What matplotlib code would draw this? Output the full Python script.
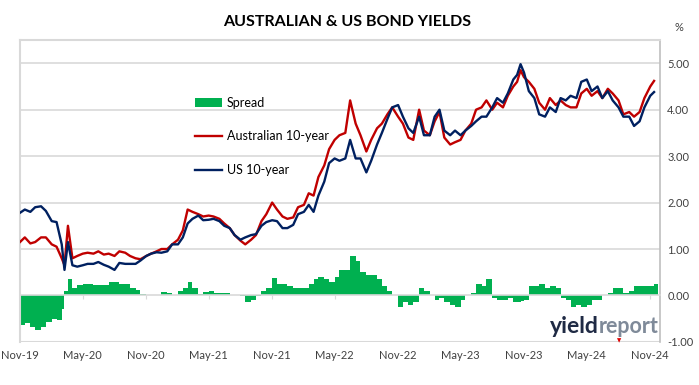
import numpy as np
import pandas as pd
import matplotlib
matplotlib.use("Agg")
import matplotlib.pyplot as plt
import matplotlib.dates as mdates
from matplotlib.patches import Patch
from matplotlib.lines import Line2D

plt.rcParams['font.family'] = ['Lato', 'DejaVu Sans']

# roughly twice a month
dates = [
    "2019-11-01", "2019-11-15", "2019-12-01", "2019-12-15", "2020-01-01", "2020-01-15",
    "2020-02-01", "2020-02-15", "2020-03-01", "2020-03-09", "2020-03-19", "2020-04-01",
    "2020-04-15", "2020-05-01", "2020-05-15", "2020-06-01", "2020-06-15", "2020-07-01",
    "2020-07-15", "2020-08-01", "2020-08-15", "2020-09-01", "2020-09-15", "2020-10-01",
    "2020-10-15", "2020-11-01", "2020-11-15", "2020-12-01", "2020-12-15", "2021-01-01",
    "2021-01-15", "2021-02-01", "2021-02-15", "2021-03-01", "2021-03-15", "2021-04-01",
    "2021-04-15", "2021-05-01", "2021-05-15", "2021-06-01", "2021-06-15", "2021-07-01",
    "2021-07-15", "2021-08-01", "2021-08-15", "2021-09-01", "2021-09-15", "2021-10-01",
    "2021-10-15", "2021-11-01", "2021-11-15", "2021-12-01", "2021-12-15", "2022-01-01",
    "2022-01-15", "2022-02-01", "2022-02-15", "2022-03-01", "2022-03-15", "2022-04-01",
    "2022-04-15", "2022-05-01", "2022-05-15", "2022-06-01", "2022-06-15", "2022-07-01",
    "2022-07-15", "2022-08-01", "2022-08-15", "2022-09-01", "2022-09-15", "2022-10-01",
    "2022-10-15", "2022-11-01", "2022-11-15", "2022-12-01", "2022-12-15", "2023-01-01",
    "2023-01-15", "2023-02-01", "2023-02-15", "2023-03-01", "2023-03-15", "2023-04-01",
    "2023-04-15", "2023-05-01", "2023-05-15", "2023-06-01", "2023-06-15", "2023-07-01",
    "2023-07-15", "2023-08-01", "2023-08-15", "2023-09-01", "2023-09-15", "2023-10-01",
    "2023-10-12", "2023-10-22", "2023-11-01", "2023-11-15", "2023-12-01", "2023-12-15",
    "2024-01-01", "2024-01-15", "2024-02-01", "2024-02-15", "2024-03-01", "2024-03-15",
    "2024-04-01", "2024-04-15", "2024-05-01", "2024-05-15", "2024-06-01", "2024-06-15",
    "2024-07-01", "2024-07-15", "2024-08-01", "2024-08-15", "2024-09-01", "2024-09-15",
    "2024-10-01", "2024-10-15", "2024-11-01", "2024-11-12",
]

au_10y = [
    1.15, 1.25, 1.12, 1.15, 1.25, 1.25,
    1.10, 1.05, 0.80, 0.65, 1.50, 0.80,
    0.85, 0.90, 0.92, 0.90, 0.95, 0.88,
    0.90, 0.85, 0.95, 0.92, 0.85, 0.80,
    0.78, 0.85, 0.90, 0.95, 1.00, 1.00,
    1.10, 1.20, 1.40, 1.85, 1.80, 1.75,
    1.70, 1.72, 1.70, 1.65, 1.55, 1.45,
    1.30, 1.18, 1.10, 1.20, 1.30, 1.60,
    1.75, 2.00, 1.85, 1.70, 1.65, 1.68,
    1.90, 1.95, 2.20, 2.15, 2.55, 2.80,
    3.15, 3.35, 3.45, 3.50, 4.20, 3.70,
    3.45, 3.10, 3.35, 3.60, 3.70, 3.90,
    4.05, 3.85, 3.70, 3.40, 3.35, 4.00,
    3.55, 3.45, 3.75, 3.95, 3.40, 3.25,
    3.30, 3.35, 3.55, 3.70, 4.00, 4.05,
    4.20, 4.00, 4.15, 4.05, 4.30, 4.50,
    4.60, 4.85, 4.70, 4.60, 4.45, 4.15,
    4.00, 4.25, 4.10, 4.20, 4.10, 4.05,
    4.05, 4.35, 4.45, 4.30, 4.40, 4.25,
    4.45, 4.35, 4.20, 3.90, 3.95, 3.85,
    3.95, 4.25, 4.50, 4.62,
]

us_10y = [
    1.78, 1.85, 1.80, 1.90, 1.92, 1.82,
    1.60, 1.58, 1.10, 0.55, 1.15, 0.65,
    0.62, 0.65, 0.68, 0.68, 0.72, 0.66,
    0.62, 0.55, 0.70, 0.68, 0.68, 0.68,
    0.75, 0.85, 0.90, 0.93, 0.92, 0.95,
    1.10, 1.10, 1.25, 1.55, 1.65, 1.72,
    1.62, 1.63, 1.65, 1.60, 1.50, 1.45,
    1.30, 1.20, 1.25, 1.30, 1.32, 1.50,
    1.58, 1.62, 1.60, 1.45, 1.45, 1.52,
    1.75, 1.80, 1.95, 1.80, 2.15, 2.45,
    2.85, 2.95, 2.90, 2.95, 3.35, 2.95,
    2.95, 2.65, 2.90, 3.25, 3.50, 3.80,
    4.05, 4.10, 3.85, 3.60, 3.50, 3.85,
    3.45, 3.45, 3.85, 4.00, 3.55, 3.45,
    3.55, 3.45, 3.55, 3.65, 3.75, 3.85,
    3.85, 4.05, 4.25, 4.15, 4.35, 4.65,
    4.75, 4.98, 4.80, 4.40, 4.25, 3.90,
    3.85, 4.05, 3.95, 4.25, 4.20, 4.30,
    4.25, 4.60, 4.65, 4.40, 4.50, 4.25,
    4.40, 4.20, 4.05, 3.85, 3.85, 3.65,
    3.75, 4.05, 4.30, 4.38,
]

x = pd.to_datetime(dates)
au = np.array(au_10y)
us = np.array(us_10y)
spread = au - us

# bar widths follow the spacing of the readings
gaps = np.diff(mdates.date2num(x))
widths = np.append(gaps, gaps[-1])

fig = plt.figure(figsize=(6.99, 3.85), dpi=100)
ax = fig.add_axes([0.0286, 0.112, 0.916, 0.784])

grid_c = '#d9d9d9'
for yv in [1, 2, 3, 4, 5]:
    ax.axhline(yv, color=grid_c, lw=1.2, zorder=0)

ax.bar(mdates.date2num(x), spread, width=widths, align='edge',
       color='#00B050', edgecolor='none', zorder=2)
ax.plot(x, au, color='#C00000', lw=1.7, zorder=3)
ax.plot(x, us, color='#002060', lw=1.7, zorder=4)

ax.set_ylim(-1, 5.5)
ax.set_xlim(pd.Timestamp("2019-11-01"), pd.Timestamp("2024-11-30"))

# y labels on the right
ax.yaxis.tick_right()
ax.set_yticks([-1, 0, 1, 2, 3, 4, 5])
ax.set_yticklabels([f"{v:.2f}" for v in [-1, 0, 1, 2, 3, 4, 5]])
ax.tick_params(axis='y', length=0, pad=5, labelsize=8, labelcolor='#404040')

# x axis sits on the zero line, labels pushed down to the bottom
ax.spines['bottom'].set_position(('data', 0))
ax.spines['bottom'].set_color(grid_c)
ax.spines['bottom'].set_linewidth(1.2)
ax.axhline(-1, color=grid_c, lw=1.5, zorder=1)
ticks = pd.date_range("2019-11-01", "2024-11-01", freq="6MS")
ax.set_xticks(ticks)
ax.xaxis.set_major_formatter(mdates.DateFormatter("%b-%y"))
ax.tick_params(axis='x', direction='out', length=3, color=grid_c,
               pad=36, labelsize=8, labelcolor='#404040')

for s in ['left', 'top']:
    ax.spines[s].set_color(grid_c)
    ax.spines[s].set_linewidth(1.5)
ax.spines['right'].set_color('#bfbfbf')
ax.spines['right'].set_linewidth(1.2)

handles = [Patch(facecolor='#00B050', edgecolor='none'),
           Line2D([0], [0], color='#C00000', lw=1.7),
           Line2D([0], [0], color='#002060', lw=1.7)]
ax.legend(handles, ['Spread', 'Australian 10-year', 'US 10-year'],
          loc='upper left', bbox_to_anchor=(0.255, 0.85), frameon=False,
          fontsize=9, labelspacing=1.75, handlelength=2.2, handletextpad=0.4)

fig.text(0.497, 0.943, "AUSTRALIAN & US BOND YIELDS", ha='center', va='center',
         fontsize=11.5, fontweight='bold', color='#000000')
fig.text(0.972, 0.928, "%", ha='center', va='center', fontsize=8, color='#404040')

# yieldreport mark
fig.text(0.857, 0.152, "yield", ha='right', va='center', fontsize=16.5,
         fontweight='bold', color='#1f2a44')
fig.text(0.857, 0.152, "report", ha='left', va='center', fontsize=15.5,
         fontweight='bold', color='#7f8a99')
fig.text(0.886, 0.115, "\u25BC", ha='center', va='center', fontsize=4, color='#e00000')

fig.savefig("out.png", dpi=100)
